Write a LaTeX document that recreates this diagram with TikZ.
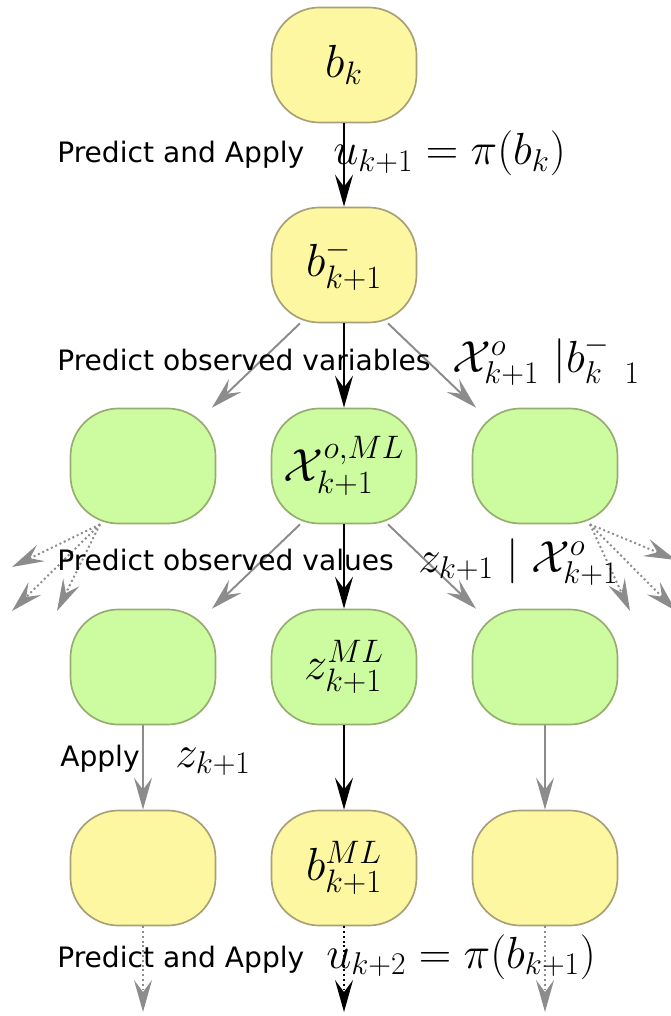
\RequirePackage{fix-cm}
\documentclass[tikz,border=0pt]{standalone}
\usepackage{fontspec}
\usepackage{amsmath}
\setmainfont{DejaVu Sans}
\usetikzlibrary{positioning,arrows.meta}

\definecolor{beliefyellow}{RGB}{252,247,160}
\definecolor{beliefedge}{RGB}{168,160,120}
\definecolor{obsgreen}{RGB}{205,252,160}
\definecolor{obsedge}{RGB}{150,172,112}
\definecolor{branchgray}{RGB}{140,140,140}

\tikzset{
  belief/.style={draw=beliefedge, fill=beliefyellow, line width=1.2pt,
    rounded corners=1.2cm, minimum width=3.625cm, minimum height=2.875cm,
    font=\fontsize{33}{38}\selectfont},
  obs/.style={belief, draw=obsedge, fill=obsgreen},
  steptext/.style={anchor=base west, inner sep=0pt,
    font=\fontsize{20}{24}\selectfont},
  stepmath/.style={anchor=base west, inner sep=0pt,
    font=\fontsize{32}{38}\selectfont},
  mainarrow/.style={-{Stealth[length=0.8cm,width=0.45cm,inset=0.3cm]},
    line width=1.4pt, black},
  sidearrow/.style={-{Stealth[length=0.8cm,width=0.45cm,inset=0.3cm]},
    line width=1.4pt, branchgray},
}

\begin{document}
\begin{tikzpicture}[x=0.025cm, y=-0.025cm]
  \useasboundingbox (0,0) rectangle (670,1016);

  % belief nodes and predicted observations
  \node[belief] (bk) at (344,65) {$b_k$};
  \node[belief] (bpred) at (344,265) {$b^-_{k+1}$};
  \node[obs] (xleft) at (143,466) {};
  \node[obs] (xml) at (344,466) {$\mathcal{X}^{o,ML}_{k+1}$};
  \node[obs] (xright) at (545,466) {};
  \node[obs] (zleft) at (143,667) {};
  \node[obs] (zml) at (344,667) {$z^{ML}_{k+1}$};
  \node[obs] (zright) at (545,667) {};
  \node[belief] (bleft) at (143,868) {};
  \node[belief] (bml) at (344,868) {$b^{ML}_{k+1}$};
  \node[belief] (bright) at (545,868) {};

  % free ends of the dotted branches
  \coordinate (xlA) at (12,567);
  \coordinate (xlB) at (12,611);
  \coordinate (xlC) at (57,611);
  \coordinate (xrA) at (676,560);
  \coordinate (xrB) at (630,611);
  \coordinate (xrC) at (676,611);
  \coordinate (endleft) at (143,1012);
  \coordinate (endml) at (344,1012);
  \coordinate (endright) at (545,1012);

  % connectors
  \draw[mainarrow] (bk) -- (bpred);
  \draw[mainarrow] (bpred) -- (xml);
  \draw[sidearrow] ([xshift=-1.1cm]bpred.south) -- ([xshift=1.725cm]xleft.north);
  \draw[sidearrow] ([xshift=1.1cm]bpred.south) -- ([xshift=-1.725cm]xright.north);
  \draw[mainarrow] (xml) -- (zml);
  \draw[sidearrow] ([xshift=-1.1cm]xml.south) -- ([xshift=1.725cm]zleft.north);
  \draw[sidearrow] ([xshift=1.1cm]xml.south) -- ([xshift=-1.725cm]zright.north);
  \draw[sidearrow, dotted] ([xshift=-1.075cm]xleft.south) -- (xlA);
  \draw[sidearrow, dotted] ([xshift=-1.075cm]xleft.south) -- (xlB);
  \draw[sidearrow, dotted] ([xshift=-1.075cm]xleft.south) -- (xlC);
  \draw[sidearrow, dotted] ([xshift=1.125cm]xright.south) -- (xrA);
  \draw[sidearrow, dotted] ([xshift=1.125cm]xright.south) -- (xrB);
  \draw[sidearrow, dotted] ([xshift=1.125cm]xright.south) -- (xrC);
  \draw[sidearrow] (zleft) -- (bleft);
  \draw[mainarrow] (zml) -- (bml);
  \draw[sidearrow] (zright) -- (bright);
  \draw[sidearrow, dotted] (bleft) -- (endleft);
  \draw[mainarrow, dotted] (bml) -- (endml);
  \draw[sidearrow, dotted] (bright) -- (endright);

  % step labels
  \node[steptext] (predapply) at (57,163) {Predict and Apply};
  \node[stepmath] (action) at (333,165) {$u_{k+1} = \pi(b_k)$};
  \node[steptext] (predvars) at (57,370) {Predict observed variables};
  \node[stepmath] (obsvars) at (452,372) {$\mathcal{X}^o_{k+1}\ |b^-_{k\phantom{+}1}$};
  \node[steptext] (predvals) at (57,570) {Predict observed values};
  \node[stepmath] (obsvals) at (418,572) {$z_{k+1} \mid \mathcal{X}^o_{k+1}$};
  \node[steptext] (apply) at (60,766) {Apply};
  \node[stepmath] (applyz) at (175,767) {$z_{k+1}$};
  \node[steptext] (predapplynext) at (57,967) {Predict and Apply};
  \node[stepmath] (actionnext) at (326,968) {$u_{k+2} = \pi(b_{k+1})$};
\end{tikzpicture}
\end{document}
